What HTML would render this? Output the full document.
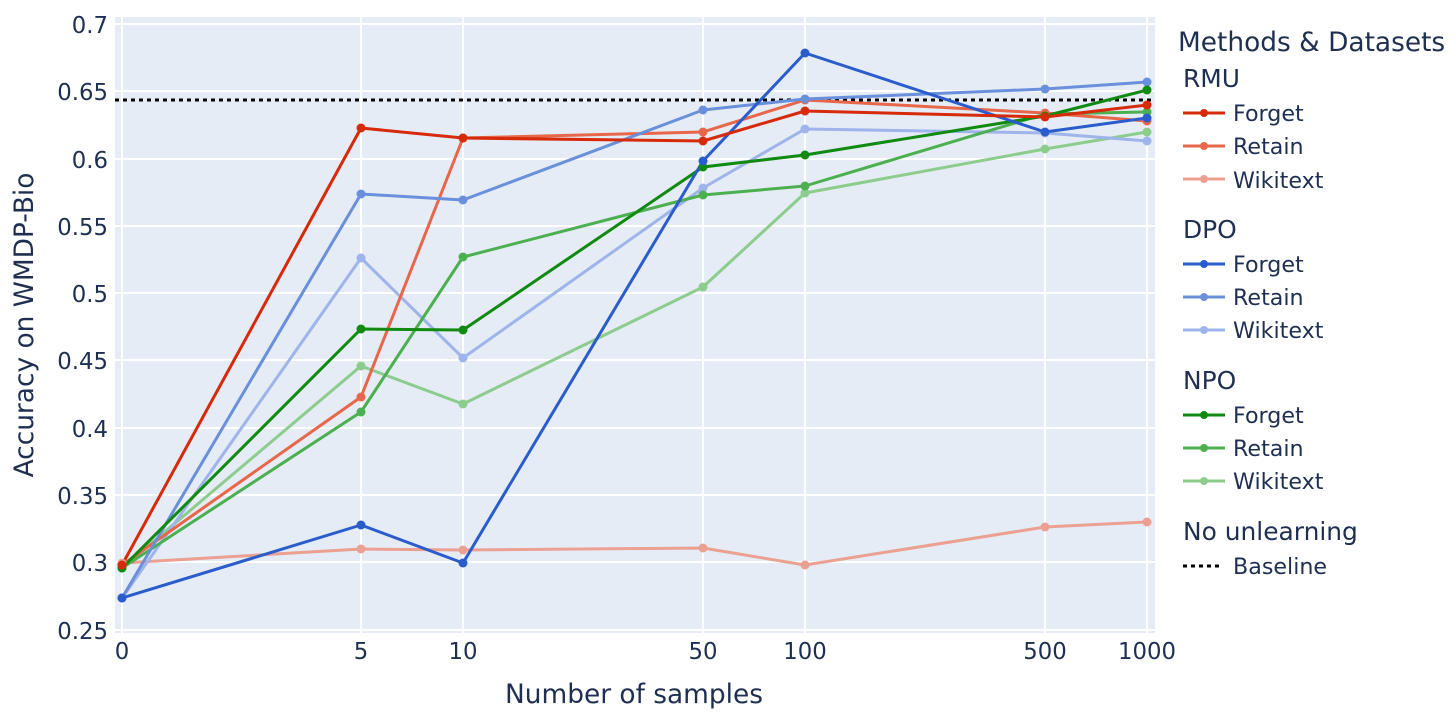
<!DOCTYPE html>
<html><head><meta charset="utf-8"><style>
html,body{margin:0;padding:0;background:#fff;}
svg text{font-family:"DejaVu Sans","Liberation Sans",sans-serif;fill:#1f2f52;}
</style></head><body>
<svg width="1456" height="719" xmlns="http://www.w3.org/2000/svg">
<rect x="115" y="17" width="1040" height="616" fill="#e5ecf6"/>
<g stroke="#fff" stroke-width="2">
<line x1="115" x2="1155" y1="24" y2="24"/><line x1="115" x2="1155" y1="91" y2="91"/>
<line x1="115" x2="1155" y1="159" y2="159"/><line x1="115" x2="1155" y1="226" y2="226"/>
<line x1="115" x2="1155" y1="293" y2="293"/><line x1="115" x2="1155" y1="360" y2="360"/>
<line x1="115" x2="1155" y1="428" y2="428"/><line x1="115" x2="1155" y1="495" y2="495"/>
<line x1="115" x2="1155" y1="562" y2="562"/><line x1="115" x2="1155" y1="630" y2="630"/>
<line y1="17" y2="633" x1="122" x2="122"/><line y1="17" y2="633" x1="361" x2="361"/>
<line y1="17" y2="633" x1="463" x2="463"/><line y1="17" y2="633" x1="703" x2="703"/>
<line y1="17" y2="633" x1="805" x2="805"/><line y1="17" y2="633" x1="1045" x2="1045"/>
<line y1="17" y2="633" x1="1147" x2="1147"/>
</g>
<g font-size="22.8" text-anchor="end">
<text x="108" y="33">0.7</text><text x="108" y="100">0.65</text><text x="108" y="168">0.6</text>
<text x="108" y="235">0.55</text><text x="108" y="302">0.5</text><text x="108" y="369">0.45</text>
<text x="108" y="437">0.4</text><text x="108" y="504">0.35</text><text x="108" y="571">0.3</text>
<text x="108" y="639">0.25</text>
</g>
<g font-size="22.8" text-anchor="middle">
<text x="122" y="659">0</text><text x="361" y="659">5</text><text x="463" y="659">10</text>
<text x="703" y="659">50</text><text x="805" y="659">100</text><text x="1045" y="659">500</text>
<text x="1147" y="659">1000</text>
</g>
<text x="634" y="703" font-size="26.4" text-anchor="middle">Number of samples</text>
<text transform="translate(33,325) rotate(-90)" font-size="26.4" text-anchor="middle">Accuracy on WMDP-Bio</text>
<line x1="115" x2="1155" y1="100" y2="100" stroke="#000" stroke-width="3" stroke-dasharray="4,4"/>
<g fill="none" stroke-width="3" stroke-linejoin="round">
<polyline stroke="#eba091" points="122,563 361,549 463,550 703,548 805,565 1045,527 1147,522"/>
<polyline stroke="#8ccc8c" points="122,568 361,366 463,404 703,287 805,193 1045,149 1147,132"/>
<polyline stroke="#9eb4ea" points="122,598 361,258 463,358 703,188 805,129 1045,133 1147,141"/>
<polyline stroke="#4caf50" points="122,568 361,412 463,257 703,195 805,186 1045,114 1147,112"/>
<polyline stroke="#e8664a" points="122,565 361,397 463,138 703,132 805,100 1045,113 1147,121"/>
<polyline stroke="#6a8fdb" points="122,598 361,194 463,200 703,110 805,99 1045,89 1147,82"/>
<polyline stroke="#108a10" points="122,568 361,329 463,330 703,167 805,155 1045,116 1147,90"/>
<polyline stroke="#2a5ccc" points="122,598 361,525 463,563 703,161 805,53 1045,132 1147,118"/>
<polyline stroke="#d62a0a" points="122,565 361,128 463,138 703,141 805,111 1045,117 1147,105"/>
</g>
<g stroke="none">
<g fill="#eba091"><circle cx="122" cy="563" r="4.5"/><circle cx="361" cy="549" r="4.5"/><circle cx="463" cy="550" r="4.5"/><circle cx="703" cy="548" r="4.5"/><circle cx="805" cy="565" r="4.5"/><circle cx="1045" cy="527" r="4.5"/><circle cx="1147" cy="522" r="4.5"/></g>
<g fill="#8ccc8c"><circle cx="122" cy="568" r="4.5"/><circle cx="361" cy="366" r="4.5"/><circle cx="463" cy="404" r="4.5"/><circle cx="703" cy="287" r="4.5"/><circle cx="805" cy="193" r="4.5"/><circle cx="1045" cy="149" r="4.5"/><circle cx="1147" cy="132" r="4.5"/></g>
<g fill="#9eb4ea"><circle cx="122" cy="598" r="4.5"/><circle cx="361" cy="258" r="4.5"/><circle cx="463" cy="358" r="4.5"/><circle cx="703" cy="188" r="4.5"/><circle cx="805" cy="129" r="4.5"/><circle cx="1045" cy="133" r="4.5"/><circle cx="1147" cy="141" r="4.5"/></g>
<g fill="#4caf50"><circle cx="122" cy="568" r="4.5"/><circle cx="361" cy="412" r="4.5"/><circle cx="463" cy="257" r="4.5"/><circle cx="703" cy="195" r="4.5"/><circle cx="805" cy="186" r="4.5"/><circle cx="1045" cy="114" r="4.5"/><circle cx="1147" cy="112" r="4.5"/></g>
<g fill="#e8664a"><circle cx="122" cy="565" r="4.5"/><circle cx="361" cy="397" r="4.5"/><circle cx="463" cy="138" r="4.5"/><circle cx="703" cy="132" r="4.5"/><circle cx="805" cy="100" r="4.5"/><circle cx="1045" cy="113" r="4.5"/><circle cx="1147" cy="121" r="4.5"/></g>
<g fill="#6a8fdb"><circle cx="122" cy="598" r="4.5"/><circle cx="361" cy="194" r="4.5"/><circle cx="463" cy="200" r="4.5"/><circle cx="703" cy="110" r="4.5"/><circle cx="805" cy="99" r="4.5"/><circle cx="1045" cy="89" r="4.5"/><circle cx="1147" cy="82" r="4.5"/></g>
<g fill="#108a10"><circle cx="122" cy="568" r="4.5"/><circle cx="361" cy="329" r="4.5"/><circle cx="463" cy="330" r="4.5"/><circle cx="703" cy="167" r="4.5"/><circle cx="805" cy="155" r="4.5"/><circle cx="1045" cy="116" r="4.5"/><circle cx="1147" cy="90" r="4.5"/></g>
<g fill="#2a5ccc"><circle cx="122" cy="598" r="4.5"/><circle cx="361" cy="525" r="4.5"/><circle cx="463" cy="563" r="4.5"/><circle cx="703" cy="161" r="4.5"/><circle cx="805" cy="53" r="4.5"/><circle cx="1045" cy="132" r="4.5"/><circle cx="1147" cy="118" r="4.5"/></g>
<g fill="#d62a0a"><circle cx="122" cy="565" r="4.5"/><circle cx="361" cy="128" r="4.5"/><circle cx="463" cy="138" r="4.5"/><circle cx="703" cy="141" r="4.5"/><circle cx="805" cy="111" r="4.5"/><circle cx="1045" cy="117" r="4.5"/><circle cx="1147" cy="105" r="4.5"/></g>
</g>
<text x="1178" y="51" font-size="26.4">Methods &amp; Datasets</text>
<g font-size="24.9">
<text x="1183" y="87">RMU</text><text x="1183" y="238">DPO</text><text x="1183" y="389">NPO</text><text x="1183" y="540">No unlearning</text>
</g>
<g font-size="22.2">
<text x="1233" y="121">Forget</text><text x="1233" y="154">Retain</text><text x="1233" y="188">Wikitext</text>
<text x="1233" y="272">Forget</text><text x="1233" y="305">Retain</text><text x="1233" y="338">Wikitext</text>
<text x="1233" y="423">Forget</text><text x="1233" y="456">Retain</text><text x="1233" y="489">Wikitext</text>
<text x="1233" y="574">Baseline</text>
</g>
<g stroke-width="3">
<line x1="1183" x2="1225" y1="113" y2="113" stroke="#d62a0a"/><circle cx="1204" cy="113" r="4" fill="#d62a0a"/>
<line x1="1183" x2="1225" y1="146" y2="146" stroke="#e8664a"/><circle cx="1204" cy="146" r="4" fill="#e8664a"/>
<line x1="1183" x2="1225" y1="179" y2="179" stroke="#eba091"/><circle cx="1204" cy="179" r="4" fill="#eba091"/>
<line x1="1183" x2="1225" y1="264" y2="264" stroke="#2a5ccc"/><circle cx="1204" cy="264" r="4" fill="#2a5ccc"/>
<line x1="1183" x2="1225" y1="297" y2="297" stroke="#6a8fdb"/><circle cx="1204" cy="297" r="4" fill="#6a8fdb"/>
<line x1="1183" x2="1225" y1="330" y2="330" stroke="#9eb4ea"/><circle cx="1204" cy="330" r="4" fill="#9eb4ea"/>
<line x1="1183" x2="1225" y1="415" y2="415" stroke="#108a10"/><circle cx="1204" cy="415" r="4" fill="#108a10"/>
<line x1="1183" x2="1225" y1="448" y2="448" stroke="#4caf50"/><circle cx="1204" cy="448" r="4" fill="#4caf50"/>
<line x1="1183" x2="1225" y1="481" y2="481" stroke="#8ccc8c"/><circle cx="1204" cy="481" r="4" fill="#8ccc8c"/>
<line x1="1183" x2="1223" y1="566" y2="566" stroke="#000" stroke-dasharray="4,4"/>
</g>
</svg>
</body></html>
